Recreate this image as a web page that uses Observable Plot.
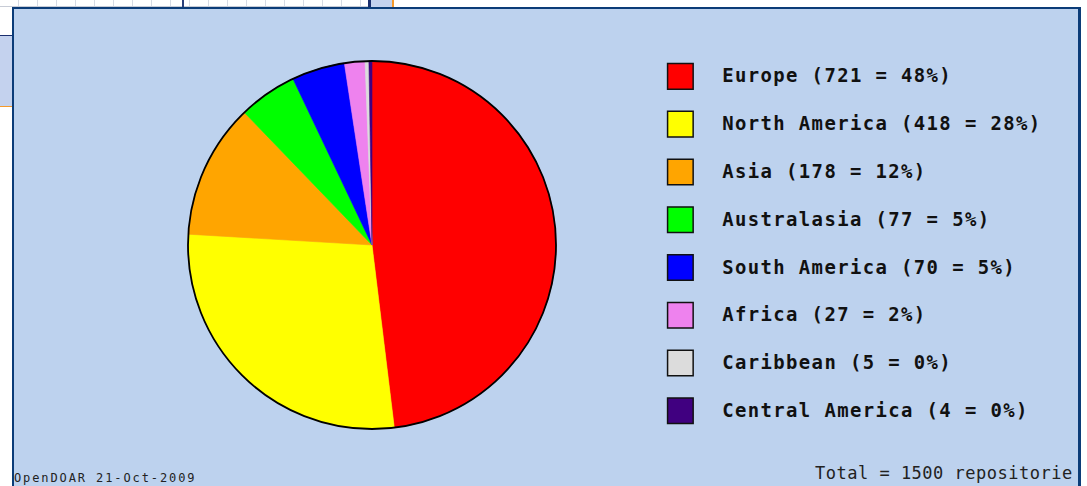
<!DOCTYPE html>
<html>
<head>
<meta charset="utf-8">
<script src="https://cdn.jsdelivr.net/npm/d3@7"></script>
<script src="https://cdn.jsdelivr.net/npm/@observablehq/plot@0.6"></script>
<style>
html, body { margin:0; padding:0; width:1087px; height:486px; overflow:hidden; background:#ffffff; position:relative; }
#topgrid { position:absolute; left:0; top:0; width:368px; height:6px;
  background: repeating-linear-gradient(to right, #ffffff 0 18px, #d6dbe4 18px 19px); border-bottom:1px solid #c8ccd6; }
#topdark { position:absolute; left:182px; top:0; width:2px; height:7px; background:#2a3f7a; }
#topdark2 { position:absolute; left:368px; top:0; width:3px; height:7px; background:#1b2f6e; }
#topblue { position:absolute; left:371px; top:0; width:21px; height:7px; background:#c4d2ee; }
#toporange { position:absolute; left:392px; top:0; width:2px; height:7px; background:#f59a2c; }
#leftline { position:absolute; left:0; top:35px; width:12px; height:1px; background:#1b2f6e; }
#lefttick { position:absolute; left:8px; top:35px; width:1px; height:10px; background:#1b2f6e; }
#leftblue { position:absolute; left:0; top:36px; width:12px; height:70px; background:#c4d2ee; }
#leftorange { position:absolute; left:0; top:106px; width:12px; height:1px; background:#f59a2c; }
#box { position:absolute; left:12px; top:7px; width:1064px; height:490px;
  border-left:2px solid #0b3c78; border-top:2px solid #0b3c78; border-right:3px solid #0b3c78;
  background:#bdd2ee; overflow:hidden; }
#pie { position:absolute; left:168px; top:46px; }
#legend { position:absolute; left:636px; top:41px; }
#captions { position:absolute; left:0; top:0; }
</style>
</head>
<body>
<div id="topgrid"></div><div id="topdark"></div><div id="topdark2"></div><div id="topblue"></div><div id="toporange"></div>
<div id="leftline"></div><div id="lefttick"></div><div id="leftblue"></div><div id="leftorange"></div>
<div id="box">
  <div id="pie"></div>
  <div id="legend"></div>
  <div id="captions"></div>
</div>
<script>
// ---- data ----
const regions = ["Europe", "North America", "Asia", "Australasia", "South America", "Africa", "Caribbean", "Central America"];
const counts  = [721, 418, 178, 77, 70, 27, 5, 4];
const colors  = ["#ff0000", "#ffff00", "#ffa500", "#00ff00", "#0000ff", "#ee82ee", "#dcdcdc", "#400080"];
const footerLeft = "OpenDOAR 21-Oct-2009";
const totalLabel = "Total = 1500 repositorie";

const total = d3.sum(counts);
const data = regions.map((name, i) => ({name, value: counts[i], pct: Math.round(counts[i] / total * 100)}));
const arcs = d3.pie().sort(null).value(d => d.value)(data);

const colorScale = {domain: regions, range: colors};

// ---- pie ----
const pie = Plot.plot({
  width: 380, height: 380, margin: 0,
  style: {background: "transparent", overflow: "visible"},
  x: {domain: [-1, 1], range: [6, 374], axis: null},
  y: {domain: [-1, 1], range: [374, 6], axis: null},
  color: colorScale,
  marks: [
    Plot.dot(data, {x: () => 0, y: () => 0, fill: "name", r: 0}),
    (index, scales) => {
      const cx = scales.x(0), cy = scales.y(0);
      const R = Math.abs(scales.x(1) - scales.x(0));
      const col = scales.color || (n => colors[regions.indexOf(n)]);
      const arc = d3.arc().innerRadius(0).outerRadius(R);
      const g = d3.create("svg:g").attr("transform", `translate(${cx},${cy})`);
      g.selectAll("path").data(arcs).join("path")
        .attr("d", arc)
        .attr("fill", d => col(d.data.name))
        .attr("stroke", d => col(d.data.name))
        .attr("stroke-width", 0.6);
      g.append("circle").attr("r", R).attr("fill", "none").attr("stroke", "#000").attr("stroke-width", 1.8);
      return g.node();
    }
  ]
});
document.getElementById("pie").append(pie);

// ---- legend ----
const legend = Plot.plot({
  width: 430, height: 400, margin: 0,
  style: {background: "transparent", overflow: "visible", letterSpacing: "1.4px"},
  x: {domain: [0, 1], range: [30, 72], axis: null},
  y: {type: "point", domain: regions, range: [26, 362], padding: 0, axis: null},
  color: colorScale,
  marks: [
    Plot.dot(data, {x: () => 0, y: "name", fill: "name", symbol: "square", r: 14.5, stroke: "#111", strokeWidth: 1.5}),
    Plot.text(data, {
      x: () => 1, y: "name",
      text: d => `${d.name} (${d.value} = ${d.pct}%)`,
      textAnchor: "start", fill: "#111",
      fontFamily: "DejaVu Sans Mono", fontSize: 19, fontWeight: "bold"
    })
  ]
});
document.getElementById("legend").append(legend);

// ---- footer captions ----
const cap = d3.create("svg").attr("width", 1064).attr("height", 490).style("overflow", "hidden");
cap.append("text").attr("x", 0).attr("y", 473)
  .attr("font-family", "DejaVu Sans Mono").attr("font-size", 12).attr("letter-spacing", "1.9px")
  .attr("fill", "#222").text(footerLeft);
cap.append("text").attr("x", 801).attr("y", 470)
  .attr("font-family", "DejaVu Sans Mono").attr("font-size", 17).attr("letter-spacing", "0.5px")
  .attr("fill", "#222").text(totalLabel);
document.getElementById("captions").append(cap.node());
</script>
</body>
</html>
